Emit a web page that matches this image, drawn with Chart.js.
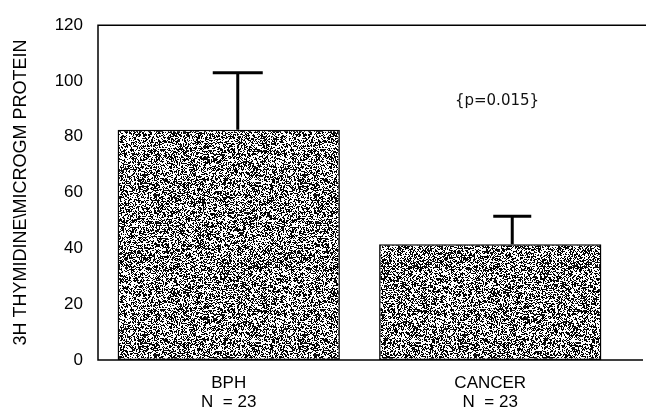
<!DOCTYPE html>
<html>
<head>
<meta charset="utf-8">
<script src="https://cdn.jsdelivr.net/npm/chart.js@4/dist/chart.umd.min.js"></script>
<style>
  html, body { margin: 0; padding: 0; background: #fff; }
  #wrap { width: 646px; height: 411px; }
</style>
</head>
<body>
<div id="wrap"><canvas id="chart" width="646" height="411"></canvas></div>
<script>
const categories = [['BPH', 'N  = 23'], ['CANCER', 'N  = 23']];
const means = [82.5, 41.5];
const errorTops = [103, 51.5];
const yTicks = [0, 20, 40, 60, 80, 100, 120];
const pLabel = '{p=0.015}';

// stippled fill like the scanned bars (seeded so it looks the same every run)
function makeStipple() {
    const c = document.createElement('canvas');
    c.width = 160; c.height = 160;
    const g = c.getContext('2d');
    g.fillStyle = '#fff';
    g.fillRect(0, 0, 160, 160);
    let seed = 12345;
    const rnd = () => { seed = (seed * 1103515245 + 12345) & 0x7fffffff; return seed / 0x7fffffff; };
    g.fillStyle = '#000';
    for (let y = 0; y < 160; y++) {
        for (let x = 0; x < 160; x++) {
            if (rnd() < 0.42) g.fillRect(x, y, 1, 1);
        }
    }
    g.fillStyle = '#111';
    for (let i = 0; i < 700; i++) {
        g.fillRect(Math.floor(rnd() * 160), Math.floor(rnd() * 160), 1 + Math.floor(rnd() * 3), 1 + Math.floor(rnd() * 2));
    }
    return g.createPattern(c, 'repeat');
}

// the scan has the error bars a bit right of the bar centres
const stemShift = [9, 22];
const capHalf = [25, 19];

const framePlugin = {
    id: 'frame',
    afterDatasetsDraw(chart) {
        const ctx = chart.ctx;
        const a = chart.chartArea;
        const x = chart.scales.x, y = chart.scales.y;
        ctx.save();
        ctx.strokeStyle = '#000';
        ctx.lineWidth = 1.5;
        ctx.beginPath();
        ctx.moveTo(chart.width, a.top);
        ctx.lineTo(a.left, a.top);
        ctx.lineTo(a.left, a.bottom);
        ctx.lineTo(chart.width - 3, a.bottom);
        ctx.stroke();

        // error bars
        ctx.lineWidth = 3;
        ctx.lineCap = 'butt';
        means.forEach((m, i) => {
            const cx = x.getPixelForValue(i) + stemShift[i];
            const yb = y.getPixelForValue(m);
            const yt = y.getPixelForValue(errorTops[i]);
            ctx.beginPath();
            ctx.moveTo(cx, yb);
            ctx.lineTo(cx, yt);
            ctx.moveTo(cx - capHalf[i], yt);
            ctx.lineTo(cx + capHalf[i], yt);
            ctx.stroke();
        });

        ctx.fillStyle = '#111';
        ctx.font = '15px "DejaVu Sans"';
        ctx.textAlign = 'center';
        ctx.textBaseline = 'middle';
        ctx.fillText(pLabel, 497, 101);
        ctx.restore();
    }
};

const ctx = document.getElementById('chart').getContext('2d');
new Chart(ctx, {
    type: 'bar',
    data: {
        labels: categories,
        datasets: [{
            data: means,
            backgroundColor: makeStipple(),
            borderColor: '#000',
            borderWidth: 1.5,
            borderSkipped: false,
            barPercentage: 0.85,
            categoryPercentage: 1
        }]
    },
    options: {
        responsive: false,
        animation: false,
        layout: { padding: { top: 20, right: 25, left: 0, bottom: 0 } },
        plugins: { legend: { display: false }, tooltip: { enabled: false } },
        scales: {
            x: {
                grid: { display: false, drawTicks: false },
                border: { display: false },
                ticks: {
                    color: '#000',
                    font: { family: 'Liberation Sans', size: 17, lineHeight: 1.12 },
                    padding: 14
                },
                afterFit(s) { s.height = 51; }
            },
            y: {
                min: 0,
                max: 120,
                afterBuildTicks(s) { s.ticks = yTicks.map(v => ({ value: v })); },
                grid: { display: false, drawTicks: false },
                border: { display: false },
                ticks: {
                    color: '#000',
                    font: { family: 'Liberation Sans', size: 17 },
                    padding: 15
                },
                title: {
                    display: true,
                    text: '3H THYMIDINE\\MICROGM PROTEIN',
                    color: '#000',
                    font: { family: 'Liberation Sans', size: 18 },
                    padding: { top: 10, bottom: 0 }
                },
                afterFit(s) { s.width = 98; }
            }
        }
    },
    plugins: [framePlugin]
});
</script>
</body>
</html>
